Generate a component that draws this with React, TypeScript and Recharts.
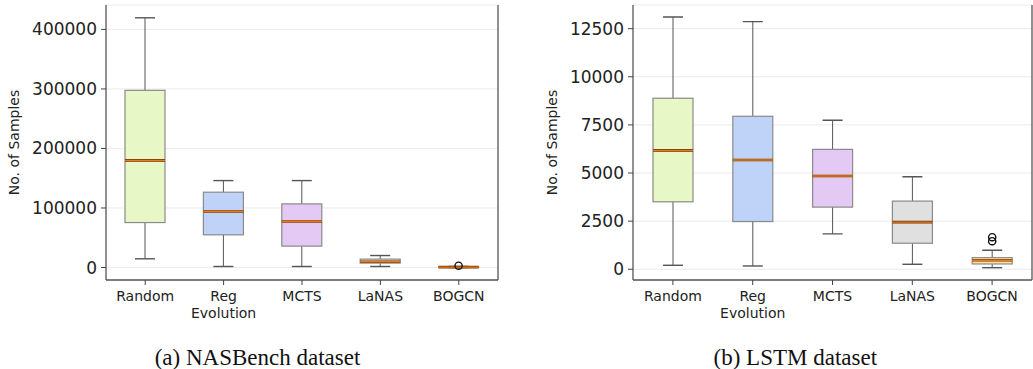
import React from 'react';
import { ComposedChart, Bar, XAxis, YAxis, CartesianGrid } from 'recharts';

const categories = ['Random', 'Reg\nEvolution', 'MCTS', 'LaNAS', 'BOGCN'];
const boxColors = ['#e8f7c6', '#bed3f7', '#e3c9f3', '#e0e0e0', '#fde3a6'];

const nasMin = [14600, 1700, 1700, 1700, 0];
const nasQ1 = [75500, 54900, 35900, 7400, 200];
const nasMed = [180000, 94000, 77200, 9600, 600];
const nasQ3 = [297600, 126500, 106900, 14100, 1000];
const nasMax = [419500, 146000, 146000, 20100, 1800];
const nasOutliers = [[], [], [], [], [3000]];
const nasTicks = [0, 100000, 200000, 300000, 400000];
const nasDomain = [-21000, 441000];

const lstmMin = [208, 172, 1839, 260, 83];
const lstmQ1 = [3505, 2479, 3229, 1354, 276];
const lstmMed = [6177, 5677, 4844, 2448, 469];
const lstmQ3 = [8885, 7948, 6229, 3542, 604];
const lstmMax = [13104, 12865, 7740, 4807, 990];
const lstmOutliers = [[], [], [], [], [1458, 1667]];
const lstmTicks = [0, 2500, 5000, 7500, 10000, 12500];
const lstmDomain = [-557, 13729];

function buildRows(mins: number[], q1s: number[], meds: number[], q3s: number[], maxs: number[], outs: number[][]) {
  return categories.map((name, i) => ({
    name,
    min: mins[i],
    q1: q1s[i],
    med: meds[i],
    q3: q3s[i],
    max: maxs[i],
    outliers: outs[i],
    color: boxColors[i],
  }));
}

const nasRows = buildRows(nasMin, nasQ1, nasMed, nasQ3, nasMax, nasOutliers);
const lstmRows = buildRows(lstmMin, lstmQ1, lstmMed, lstmQ3, lstmMax, lstmOutliers);

function BoxShape(props: any) {
  const { x, y, width, height, payload } = props;
  if (x == null || y == null) return null;
  const top = Math.min(y, y + height);
  const h = Math.abs(height);
  const { min, q1, med, q3, max, outliers, color } = payload;
  const span = max - min;
  const px = (v: number) => (span === 0 ? top : top + ((max - v) / span) * h);
  const cx = x + width / 2;
  const capW = width / 2;
  return (
    <g>
      <line x1={cx} x2={cx} y1={px(max)} y2={px(q3)} stroke="#555" strokeWidth={1} />
      <line x1={cx} x2={cx} y1={px(q1)} y2={px(min)} stroke="#555" strokeWidth={1} />
      <line x1={cx - capW / 2} x2={cx + capW / 2} y1={px(max)} y2={px(max)} stroke="#555" strokeWidth={1.4} />
      <line x1={cx - capW / 2} x2={cx + capW / 2} y1={px(min)} y2={px(min)} stroke="#555" strokeWidth={1.4} />
      <rect x={x} y={px(q3)} width={width} height={Math.max(0.5, px(q1) - px(q3))} fill={color} stroke="#8a8a8a" strokeWidth={1.2} />
      <line x1={x} x2={x + width} y1={px(med)} y2={px(med)} stroke="#6b3206" strokeWidth={2.6} />
      <line x1={x} x2={x + width} y1={px(med)} y2={px(med)} stroke="#f07a10" strokeWidth={1.4} />
      {outliers.map((o: number, k: number) => (
        <circle key={k} cx={cx} cy={px(o)} r={3.6} fill="none" stroke="#111" strokeWidth={1.4} />
      ))}
    </g>
  );
}

function XTick(props: any) {
  const { x, y, payload } = props;
  const lines = String(payload.value).split('\n');
  return (
    <text x={x} y={y} textAnchor="middle" fontSize={14} fill="#222" fontFamily="DejaVu Sans">
      {lines.map((l, i) => (
        <tspan key={i} x={x} dy={i === 0 ? 13.5 : 17}>{l}</tspan>
      ))}
    </text>
  );
}

function makeLabel(offsetX: number) {
  return (p: any) => {
    const vb = p.viewBox || {};
    const lx = (vb.x || 0) + offsetX;
    const ly = (vb.y || 0) + (vb.height || 0) / 2;
    return (
      <text x={lx} y={ly} transform={`rotate(-90, ${lx}, ${ly})`} textAnchor="middle" dominantBaseline="central" fontSize={14} fill="#222" fontFamily="DejaVu Sans">
        No. of Samples
      </text>
    );
  };
}

function BoxChart({ rows, ticks, domain, width, yWidth, right, labelX }: any) {
  return (
    <ComposedChart width={width} height={330} data={rows} margin={{ top: 5, right, bottom: 5, left: 0 }}>
      <CartesianGrid vertical={false} stroke="#ebebeb" strokeWidth={1} />
      <XAxis dataKey="name" type="category" height={45} tick={<XTick />} tickSize={5} tickLine={{ stroke: '#444' }} axisLine={{ stroke: '#555', strokeWidth: 1.3 }} interval={0} />
      <XAxis xAxisId="top" orientation="top" dataKey="name" height={0} tick={false} tickLine={false} axisLine={{ stroke: '#555', strokeWidth: 1.3 }} />
      <YAxis
        type="number"
        domain={domain}
        ticks={ticks}
        width={yWidth}
        tickSize={5}
        tickMargin={4}
        tick={{ fontSize: 17, fill: '#222', fontFamily: 'DejaVu Sans' }}
        tickLine={{ stroke: '#444' }}
        axisLine={{ stroke: '#555', strokeWidth: 1.3 }}
        allowDataOverflow
        label={{ content: makeLabel(labelX) }}
      />
      <YAxis yAxisId="right" orientation="right" width={1} tick={false} tickLine={false} axisLine={{ stroke: '#555', strokeWidth: 1.3 }} domain={domain} />
      <Bar dataKey={(d: any) => [d.min, d.max]} barSize={40} shape={<BoxShape />} isAnimationActive={false} />
    </ComposedChart>
  );
}

export default function App() {
  return (
    <div style={{ position: 'absolute', left: 0, top: 0, width: 1033, height: 369, background: '#fff', overflow: 'hidden' }}>
      <div style={{ position: 'absolute', left: 0, top: 0 }}>
        <BoxChart rows={nasRows} ticks={nasTicks} domain={nasDomain} width={516} yWidth={106} right={17} labelX={13.5} />
      </div>
      <div style={{ position: 'absolute', left: 516, top: 0 }}>
        <BoxChart rows={lstmRows} ticks={lstmTicks} domain={lstmDomain} width={517} yWidth={117} right={0} labelX={36} />
      </div>
      <svg width={1033} height={369} style={{ position: 'absolute', left: 0, top: 0, pointerEvents: 'none' }}>
        <text x={257.5} y={365} textAnchor="middle" fontSize={23} fill="#111" fontFamily="Liberation Serif">(a) NASBench dataset</text>
        <text x={795.3} y={365} textAnchor="middle" fontSize={23} fill="#111" fontFamily="Liberation Serif">(b) LSTM dataset</text>
      </svg>
    </div>
  );
}
